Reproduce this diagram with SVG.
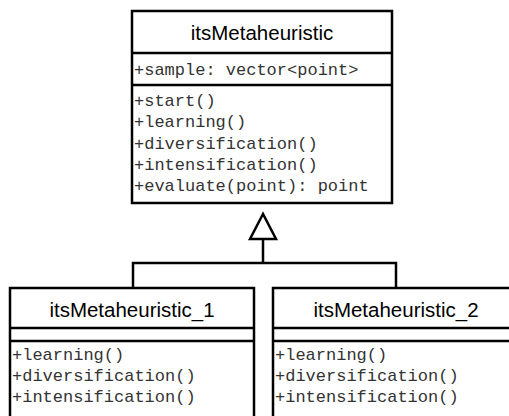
<svg xmlns="http://www.w3.org/2000/svg" width="509" height="416" viewBox="0 0 509 416">
<style>
.box{fill:#fff;stroke:#000;stroke-width:2.5}
.sep{stroke:#000;stroke-width:2.5}
.title{font-family:"Liberation Sans",Arial,sans-serif;font-size:20.5px;text-anchor:middle;fill:#000}
.mono{font-family:"Liberation Mono","Courier New",monospace;font-size:17px;fill:#333}
.conn{fill:none;stroke:#000;stroke-width:2.5}
</style>
<g id="itsMetaheuristic">
<rect class="box" x="132" y="11" width="260" height="192"/>
<line class="sep" x1="132" y1="53" x2="392" y2="53"/>
<line class="sep" x1="132" y1="85" x2="392" y2="85"/>
<text class="title" x="262" y="40">itsMetaheuristic</text>
<text class="mono" x="134" y="75">+sample: vector&lt;point&gt;</text>
<text class="mono" x="134" y="106">+start()</text>
<text class="mono" x="134" y="127">+learning()</text>
<text class="mono" x="134" y="149">+diversification()</text>
<text class="mono" x="134" y="170">+intensification()</text>
<text class="mono" x="134" y="191">+evaluate(point): point</text>
</g>
<g id="itsMetaheuristic_1">
<rect class="box" x="10" y="288" width="244" height="140"/>
<line class="sep" x1="10" y1="328" x2="254" y2="328"/>
<line class="sep" x1="10" y1="341" x2="254" y2="341"/>
<text class="title" x="132" y="317">itsMetaheuristic_1</text>
<text class="mono" x="12" y="360">+learning()</text>
<text class="mono" x="12" y="381">+diversification()</text>
<text class="mono" x="12" y="402">+intensification()</text>
</g>
<g id="itsMetaheuristic_2">
<rect class="box" x="273" y="288" width="246" height="140"/>
<line class="sep" x1="273" y1="328" x2="519" y2="328"/>
<line class="sep" x1="273" y1="341" x2="519" y2="341"/>
<text class="title" x="396" y="317">itsMetaheuristic_2</text>
<text class="mono" x="275" y="360">+learning()</text>
<text class="mono" x="275" y="381">+diversification()</text>
<text class="mono" x="275" y="402">+intensification()</text>
</g>
<g id="connectors">
<path class="conn" d="M133 288 V263 H396 V288 M263 263 V239"/>
<polygon class="conn" points="263,214 250,239 276,239" style="fill:#fff"/>
</g>
</svg>
